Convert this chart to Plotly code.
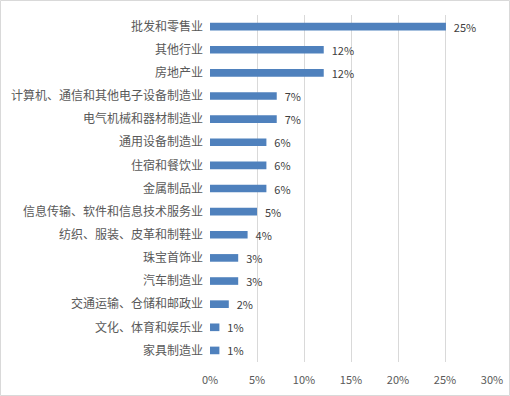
import plotly.graph_objects as go

categories = ["批发和零售业", "其他行业", "房地产业", "计算机、通信和其他电子设备制造业",
              "电气机械和器材制造业", "通用设备制造业", "住宿和餐饮业", "金属制品业",
              "信息传输、软件和信息技术服务业", "纺织、服装、皮革和制鞋业", "珠宝首饰业",
              "汽车制造业", "交通运输、仓储和邮政业", "文化、体育和娱乐业", "家具制造业"]
values = [25.1, 12.1, 12.1, 7.1, 7.1, 6.0, 6.0, 6.0, 5.0, 4.0, 3.0, 3.0, 2.0, 1.0, 1.0]
labels = ["25%", "12%", "12%", "7%", "7%", "6%", "6%", "6%", "5%", "4%", "3%", "3%", "2%", "1%", "1%"]
x_ticks = [0, 5, 10, 15, 20, 25, 30]
x_tick_labels = ["0%", "5%", "10%", "15%", "20%", "25%", "30%"]

W, H = 510, 396
ml, mr, mt, mb = 210, 18, 15, 34
pw, ph = W - ml - mr, H - mt - mb

fig = go.Figure(go.Bar(
    x=values, y=categories, orientation="h",
    marker=dict(color="#4f81bd", line=dict(width=0)),
    text=["  " + t for t in labels], textposition="outside",
    textfont=dict(family="Noto Sans CJK SC", size=11, color="#404040"),
    constraintext="none",
    cliponaxis=False, width=0.33,
))

fig.update_layout(
    width=W, height=H, margin=dict(l=ml, r=mr, t=mt, b=mb, autoexpand=False),
    paper_bgcolor="white", plot_bgcolor="white",
    showlegend=False,
    font=dict(family="Noto Sans CJK SC", size=12, color="#595959"),
    xaxis=dict(range=[0, 30], tickvals=x_ticks, ticktext=x_tick_labels, automargin=False,
               showgrid=True, gridcolor="#d9d9d9", gridwidth=1, zeroline=False,
               showline=False, ticks="", ticklabelstandoff=10,
               tickfont=dict(size=11, color="#595959"), fixedrange=True),
    yaxis=dict(autorange="reversed", showgrid=False, zeroline=False, showline=False, automargin=False,
               ticks="", ticklabelstandoff=6, tickfont=dict(size=12, color="#595959")),
    shapes=[dict(type="rect", xref="paper", yref="paper",
                 x0=(-ml + 0.5) / pw, x1=1 + (mr - 0.5) / pw,
                 y0=(-mb + 0.5) / ph, y1=1 + (mt - 0.5) / ph,
                 line=dict(color="#d9d9d9", width=1), layer="below")],
    bargap=0.67,
)

fig.write_html("out.html", config={"displayModeBar": False},
               post_script="document.body.style.margin='0';document.body.style.overflow='hidden';")
